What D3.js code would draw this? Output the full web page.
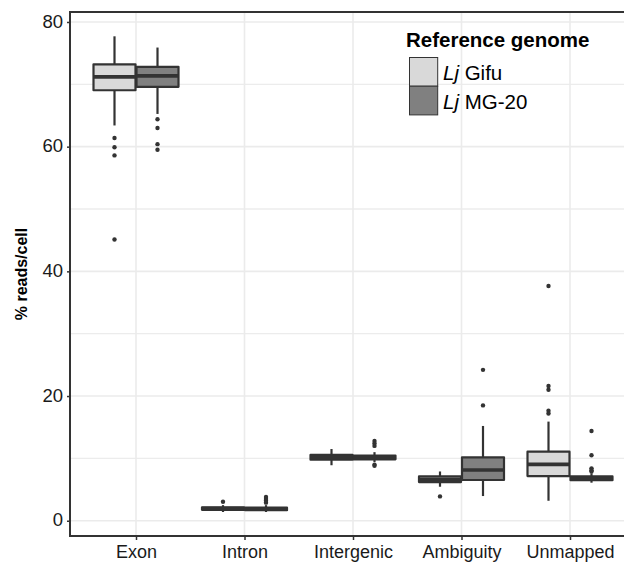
<!DOCTYPE html>
<html>
<head>
<meta charset="utf-8">
<script src="https://cdn.jsdelivr.net/npm/d3@7"></script>
<style>
  body { margin: 0; background: #fff; }
  svg { font-family: "Liberation Sans", Arial, sans-serif; }
</style>
</head>
<body>
<svg id="chart" width="624" height="565"></svg>
<script>
// categories and groups
const categories = ["Exon", "Intron", "Intergenic", "Ambiguity", "Unmapped"];
const genomes = ["Gifu", "MG-20"];
const genomeColors = ["#d9d9d9", "#808080"];

// box stats per category: [whisker low, q1, median, q3, whisker high]
const gifuStats = [
  [63.4, 69.05, 71.2, 73.2, 77.7],
  [1.4, 1.75, 1.95, 2.15, 2.5],
  [8.9, 9.8, 10.15, 10.55, 11.5],
  [5.45, 6.2, 6.65, 7.1, 7.9],
  [3.2, 7.17, 9.04, 11.07, 15.9]
];
const mgStats = [
  [65.25, 69.6, 71.35, 72.8, 75.9],
  [1.4, 1.7, 1.9, 2.1, 2.5],
  [9.4, 9.85, 10.15, 10.45, 11.0],
  [3.96, 6.53, 8.13, 10.17, 15.2],
  [6.1, 6.5, 6.8, 7.1, 7.6]
];
const gifuOutliers = [
  [61.4, 59.9, 58.6, 45.1],
  [3.05],
  [],
  [3.9],
  [37.65, 21.6, 21.0, 17.65, 17.2]
];
const mgOutliers = [
  [64.4, 63.0, 60.4, 59.5],
  [3.8, 3.5, 3.2, 2.9],
  [12.8, 12.4, 12.0, 9.0, 8.8],
  [18.5, 24.2],
  [14.4, 10.5, 8.4, 8.1, 7.9]
];
const yTicks = [0, 20, 40, 60, 80];
const yMinor = [10, 30, 50, 70];

const svg = d3.select("#chart");
const pLeft = 70, pTop = 12, pBottom = 536;
const step = 108.5;

const x = d3.scalePoint().domain(categories).range([136, 136 + 4 * step]);
const pRight = x("Unmapped") + 0.6 * step;
const y = d3.scaleLinear().domain([-2.45, 81.6]).range([pBottom, pTop]);
const dodge = d3.scaleBand().domain(genomes).range([-43, 43]).padding(0);
const boxW = 42;
const ink = "#333333";

// gridlines
const grid = svg.append("g");
grid.selectAll(".minor").data(yMinor).join("line")
  .attr("x1", pLeft).attr("x2", pRight)
  .attr("y1", d => y(d)).attr("y2", d => y(d))
  .attr("stroke", "#ececec").attr("stroke-width", 1.3);
grid.selectAll(".major").data(yTicks).join("line")
  .attr("x1", pLeft).attr("x2", pRight)
  .attr("y1", d => y(d)).attr("y2", d => y(d))
  .attr("stroke", "#ebebeb").attr("stroke-width", 1.6);
grid.selectAll(".vert").data(categories).join("line")
  .attr("x1", d => x(d)).attr("x2", d => x(d))
  .attr("y1", pTop).attr("y2", pBottom)
  .attr("stroke", "#ebebeb").attr("stroke-width", 1.6);

// boxes
const rows = [];
categories.forEach((c, i) => {
  rows.push({ cat: c, g: 0, s: gifuStats[i], out: gifuOutliers[i] });
  rows.push({ cat: c, g: 1, s: mgStats[i], out: mgOutliers[i] });
});

const boxes = svg.append("g").selectAll("g").data(rows).join("g")
  .attr("transform", d => `translate(${x(d.cat) + dodge(genomes[d.g]) + dodge.bandwidth() / 2},0)`);

boxes.append("line")
  .attr("y1", d => y(d.s[0])).attr("y2", d => y(d.s[1]))
  .attr("stroke", ink).attr("stroke-width", 2.2);
boxes.append("line")
  .attr("y1", d => y(d.s[3])).attr("y2", d => y(d.s[4]))
  .attr("stroke", ink).attr("stroke-width", 2.2);
boxes.append("rect")
  .attr("x", -boxW / 2).attr("width", boxW)
  .attr("y", d => y(d.s[3]))
  .attr("height", d => y(d.s[1]) - y(d.s[3]))
  .attr("fill", d => genomeColors[d.g])
  .attr("stroke", ink).attr("stroke-width", 2.2)
  .attr("stroke-linejoin", "round");
boxes.append("line")
  .attr("x1", -boxW / 2).attr("x2", boxW / 2)
  .attr("y1", d => y(d.s[2])).attr("y2", d => y(d.s[2]))
  .attr("stroke", ink).attr("stroke-width", 3.6);
boxes.selectAll("circle").data(d => d.out).join("circle")
  .attr("cy", d => y(d)).attr("r", 2.2).attr("fill", ink);

// panel border (left, top, bottom)
svg.append("path")
  .attr("d", `M${pRight},${pTop}H${pLeft}V${pBottom}H${pRight}`)
  .attr("fill", "none").attr("stroke", ink).attr("stroke-width", 2);

// axes
const yAxis = svg.append("g").attr("transform", `translate(${pLeft},0)`)
  .call(d3.axisLeft(y).tickValues(yTicks).tickSize(3).tickPadding(4));
yAxis.select(".domain").remove();
yAxis.selectAll("line").attr("stroke", ink).attr("stroke-width", 1.5);
yAxis.selectAll("text").attr("font-size", 18.5).attr("fill", "#1a1a1a")
  .attr("font-family", "Liberation Sans, Arial, sans-serif").attr("dy", "0.28em");

const xAxis = svg.append("g").attr("transform", `translate(0,${pBottom})`)
  .call(d3.axisBottom(x).tickSize(4).tickPadding(5));
xAxis.select(".domain").remove();
xAxis.selectAll("line").attr("stroke", ink).attr("stroke-width", 1.5);
xAxis.selectAll("text").attr("font-size", 18).attr("fill", "#1a1a1a")
  .attr("font-family", "Liberation Sans, Arial, sans-serif");

svg.append("text")
  .attr("transform", `translate(27,${(pTop + pBottom) / 2}) rotate(-90)`)
  .attr("text-anchor", "middle")
  .attr("font-size", 16).attr("font-weight", "bold")
  .text("% reads/cell");

// legend
const lg = svg.append("g");
lg.append("text").attr("x", 406).attr("y", 46.5)
  .attr("font-size", 20.5).attr("font-weight", "bold").text("Reference genome");
genomes.forEach((g, i) => {
  lg.append("rect").attr("x", 409.5).attr("y", 57.5 + i * 28.7)
    .attr("width", 28.2).attr("height", 28.7)
    .attr("fill", genomeColors[i]).attr("stroke", ink).attr("stroke-width", 1);
  const t = lg.append("text").attr("x", 443).attr("y", 79.5 + i * 29).attr("font-size", 20.5);
  t.append("tspan").attr("font-style", "italic").text("Lj");
  t.append("tspan").text(" " + g);
});
</script>
</body>
</html>
